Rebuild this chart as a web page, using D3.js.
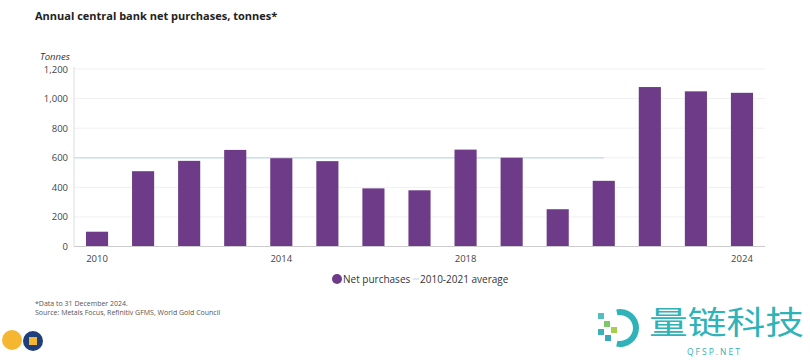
<!DOCTYPE html>
<html><head><meta charset="utf-8">
<script src="https://cdn.jsdelivr.net/npm/d3@7"></script>
<style>body{margin:0;background:#fff;font-family:"Open Sans",sans-serif}</style>
</head><body><svg id="c" width="810" height="360"></svg>
<script>
const years = [2010,2011,2012,2013,2014,2015,2016,2017,2018,2019,2020,2021,2022,2023,2024];
const netPurchases = [100,509,579,653,597,577,393,380,655,600,252,444,1078,1049,1039];
const averageValue = 600;
const yTicks = [0,200,400,600,800,1000,1200];
const xTickLabels = [2010,2014,2018,2024];

const svg = d3.select("#c");
const M = {l:74, r:765, t:69, b:246.5};
const x = d3.scaleBand().domain(years).range([M.l, M.r]).paddingInner(0.52).paddingOuter(0.26);
const y = d3.scaleLinear().domain([0,1200]).range([M.b, M.t]);

svg.append("text").attr("x",35).attr("y",20).attr("font-size",11).attr("font-weight",700).attr("fill","#222")
  .text("Annual central bank net purchases, tonnes*");
svg.append("text").attr("x",40).attr("y",60).attr("font-size",9.5).attr("font-style","italic").attr("fill","#333").text("Tonnes");

// grid
svg.append("g").selectAll("line").data(yTicks.filter(d=>d>0)).join("line")
  .attr("x1",M.l).attr("x2",M.r).attr("y1",d=>y(d)).attr("y2",d=>y(d))
  .attr("stroke","#f0f0f0").attr("stroke-width",1);

// average line
svg.append("line").attr("x1",M.l).attr("x2",x(2021)+x.bandwidth()/2)
  .attr("y1",y(averageValue)).attr("y2",y(averageValue)).attr("stroke","#c6e2ea").attr("stroke-width",1.3);

// y axis
const ya = svg.append("g").attr("transform",`translate(${M.l-6},0)`)
  .call(d3.axisLeft(y).tickValues(yTicks).tickSize(0).tickPadding(0).tickFormat(d3.format(",")));
ya.select(".domain").remove();
ya.selectAll("text").attr("font-size",9.5).attr("fill","#444").attr("font-family","Open Sans");
svg.append("line").attr("x1",M.l).attr("x2",M.l).attr("y1",M.t-2).attr("y2",M.b).attr("stroke","#ddd");

// bars
svg.append("g").selectAll("rect").data(years).join("rect")
  .attr("x",d=>x(d)).attr("width",x.bandwidth())
  .attr("y",(d,i)=>y(netPurchases[i])).attr("height",(d,i)=>y(0)-y(netPurchases[i]))
  .attr("fill","#6d3b87");

// baseline
svg.append("line").attr("x1",M.l).attr("x2",M.r).attr("y1",M.b).attr("y2",M.b).attr("stroke","#ccc");

// x axis
const xa = svg.append("g").attr("transform",`translate(0,${M.b})`)
  .call(d3.axisBottom(x).tickValues(xTickLabels).tickSize(0).tickPadding(9));
xa.select(".domain").remove();
xa.selectAll("text").attr("font-size",9.5).attr("fill","#444").attr("font-family","Open Sans");

// legend
const lg = svg.append("g");
lg.append("circle").attr("cx",337).attr("cy",279).attr("r",5).attr("fill","#6d3b87");
lg.append("text").attr("x",343).attr("y",283).attr("font-size",10).attr("fill","#333").text("Net purchases");
lg.append("line").attr("x1",413).attr("x2",419).attr("y1",279).attr("y2",279).attr("stroke","#c6e2ea").attr("stroke-width",1.3);
lg.append("text").attr("x",420).attr("y",283).attr("font-size",10).attr("fill","#333").text("2010-2021 average");

// footnotes
svg.append("text").attr("x",35).attr("y",305.5).attr("font-size",7).attr("fill","#555").text("*Data to 31 December 2024.");
svg.append("text").attr("x",35).attr("y",314.5).attr("font-size",7).attr("fill","#555").text("Source: Metals Focus, Refinitiv GFMS, World Gold Council");

// logo
svg.append("circle").attr("cx",12).attr("cy",340).attr("r",10).attr("fill","#f5b731");
svg.append("circle").attr("cx",33).attr("cy",341).attr("r",10).attr("fill","#1f3f7a");
svg.append("rect").attr("x",29).attr("y",337).attr("width",8).attr("height",8).attr("fill","#f5b731");

// watermark
const wm = svg.append("g");
wm.append("path").attr("d",d3.arc()({innerRadius:13,outerRadius:19,startAngle:-0.2,endAngle:Math.PI+0.2})).attr("transform","translate(620,328)").attr("fill","#2fb3b8");
[[601,316,"#4fbfc0"],[607,324,"#7cc86a"],[601,332,"#3ab0b8"],[614,330,"#a5d04a"],[608,338,"#3aa8b8"]].forEach(([cx,cy,c])=>
  wm.append("rect").attr("x",cx-3).attr("y",cy-3).attr("width",6).attr("height",6).attr("fill",c));
wm.append("text").attr("x",649).attr("y",334).attr("font-size",32).attr("fill","#2fb3b8")
  .attr("font-family","Noto Sans CJK SC").attr("textLength",155).attr("lengthAdjust","spacingAndGlyphs").text("量链科技");
wm.append("text").attr("x",687).attr("y",355).attr("font-size",8.5).attr("fill","#2fb3b8").attr("letter-spacing",2).text("QFSP.NET");
</script></body></html>
